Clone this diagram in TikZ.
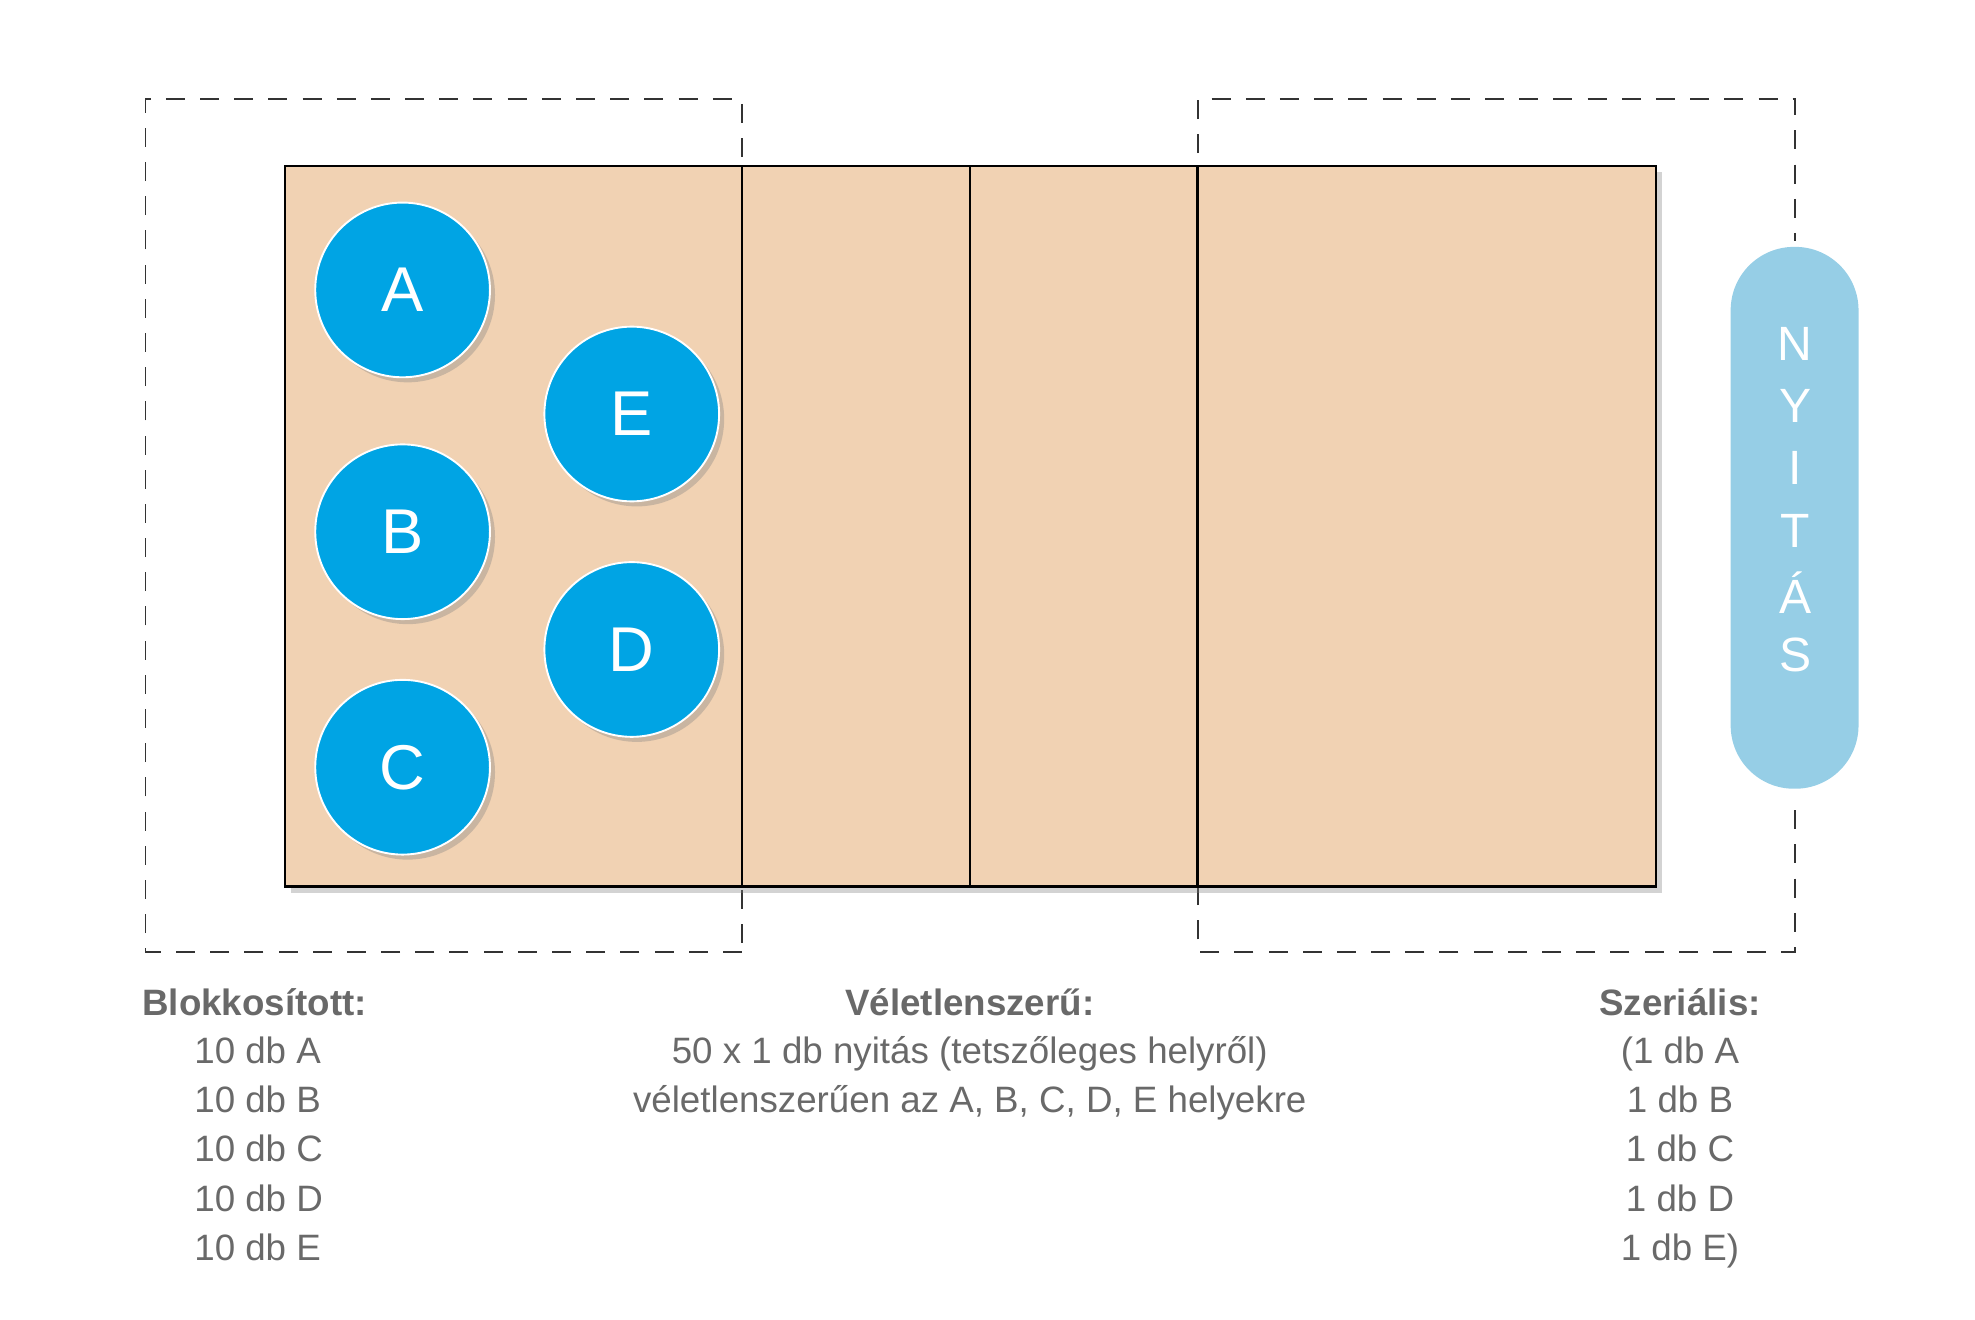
\documentclass[tikz,border=0pt]{standalone}
\usepackage{fontspec}
\setmainfont{Liberation Sans}
\usetikzlibrary{shadows}
\definecolor{court}{RGB}{241,210,179}
\definecolor{ball}{RGB}{0,164,228}
\definecolor{pill}{RGB}{150,206,230}
\definecolor{txt}{RGB}{105,105,105}
\tikzset{every picture/.style={line width=1pt},
  player/.style={circle,fill=ball,draw=white,line width=1.5pt,minimum size=138pt,inner sep=0pt,text=white,font=\fontsize{50}{50}\selectfont,drop shadow={opacity=0.35,shadow xshift=4pt,shadow yshift=-4pt}},
  zone/.style={dash pattern=on 15pt off 12pt,line width=1.4pt,black!80},
  lab/.style={text=txt,font=\fontsize{29}{39}\selectfont,inner sep=0pt}}
\begin{document}
\begin{tikzpicture}[x=1pt,y=1pt,yscale=-1]
	\useasboundingbox (0,0) rectangle (1560,1042);
	
	%dashed zones
	\draw[zone] (586,752) -- (115,752) -- (115,78) -- (586,78) -- (586,752);
	\draw[zone] (1418,640) -- (1418,752) -- (946,752) -- (946,78) -- (1418,78) -- (1418,190);
	%court
	\path[fill=court,drop shadow={opacity=0.35,shadow xshift=5pt,shadow yshift=-5pt}] (225,131) rectangle (1308,700);
	\draw[line width=2pt] (225,131) rectangle (1308,700);
	\foreach \x in {586,766,946}
	  \draw[line width=2pt] (\x,131) -- (\x,700);
	%players
	\node[player] (pA) at (318,229) {A};
	\node[player] (pE) at (499,327) {E};
	\node[player] (pB) at (318,420) {B};
	\node[player] (pD) at (499,513) {D};
	\node[player] (pC) at (318,606) {C};
	%serve
	\fill[pill,rounded corners=50pt] (1367,195) rectangle (1468,623);
	\foreach \l [count=\i] in {N,Y,I,T,Á,S}
	  \node[text=white,font=\fontsize{38}{38}\selectfont] (s\i) at (1418,223+49*\i) {\l};
	
	% Text Nodes
	\node[lab,anchor=north west,align=left] (blk) at (112,780) {\textbf{Blokkosított:}\\[-1pt]
	  \hspace*{41pt}10 db A\\ \hspace*{41pt}10 db B\\ \hspace*{41pt}10 db C\\ \hspace*{41pt}10 db D\\ \hspace*{41pt}10 db E};
	\node[lab,anchor=north,align=center] (rnd) at (766,780) {\textbf{Véletlenszerű:}\\[-1pt]
	  50 x 1 db nyitás (tetszőleges helyről)\\ véletlenszerűen az A, B, C, D, E helyekre};
	\node[lab,anchor=north,align=center] (ser) at (1327,780) {\textbf{Szeriális:}\\[-1pt]
	  (1 db A\\ 1 db B\\ 1 db C\\ 1 db D\\ 1 db E)};
\end{tikzpicture}
\end{document}
